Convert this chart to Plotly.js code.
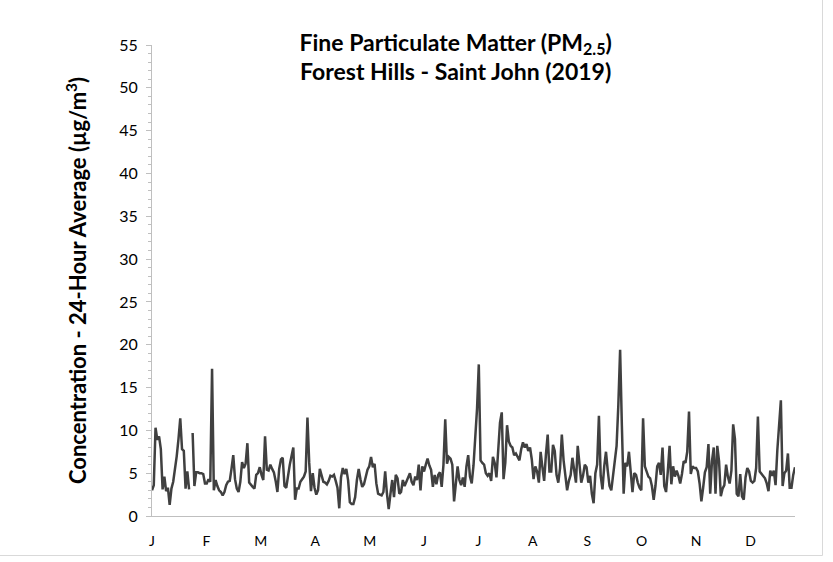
<!DOCTYPE html>
<html>
<head>
<meta charset="utf-8">
<script src="https://cdn.plot.ly/plotly-3.0.1.min.js"></script>
<style>
html,body{margin:0;padding:0;background:#fff;}
#chart{width:833px;height:562px;}
</style>
</head>
<body>
<div id="chart"></div>
<script>
// Month tick labels
const monthLabels = ['J','F','M','A','M','J','J','A','S','O','N','D'];

// Daily 24-hour average PM2.5 (µg/m³), 2019, by month
const jan = [3.0,3.6,10.3,8.9,9.3,7.8,3.1,4.6,2.9,3.3,1.3,3.2,4.0,5.3,7.0,9.0,11.4,7.8,7.6,3.2,5.2,3.1,null,9.7,3.5,5.1,5.1,5.0,5.0,4.9,3.8];
const feb = [3.8,4.3,4.0,17.2,3.0,4.2,3.5,3.0,2.8,2.4,2.8,3.6,4.0,4.1,5.5,7.1,4.3,3.2,2.8,4.0,6.3,5.6,6.1,8.5,3.9,3.6,3.4,3.2];
const mar = [4.8,5.0,5.7,4.8,4.2,9.3,5.4,5.3,6.0,5.5,5.1,4.1,2.8,5.5,6.6,6.8,3.5,3.3,5.0,6.0,7.0,8.0,1.9,3.2,3.2,4.0,4.3,4.6,5.2,11.5,6.2];
const apr = [2.9,5.0,3.3,2.5,3.0,5.5,4.8,4.0,3.9,3.7,4.1,4.7,4.6,4.8,4.1,3.3,0.9,4.5,5.6,4.9,5.5,4.2,1.6,1.4,1.4,2.2,4.2,5.5,4.3,3.4];
const may = [3.7,4.6,5.4,5.8,6.9,5.7,6.1,3.8,2.6,2.5,2.4,2.8,5.2,2.6,0.8,2.6,4.2,2.2,4.8,4.4,2.6,2.8,4.2,3.5,4.0,4.5,5.0,4.0,3.6,4.6,4.2];
const jun = [6.0,3.0,5.8,5.2,6.0,6.7,5.9,5.4,3.4,4.8,3.7,4.8,5.1,3.4,6.0,11.3,6.1,6.9,6.7,6.0,1.7,4.2,5.8,4.2,3.6,4.5,3.4,5.8,7.1,4.6];
const jul = [3.8,5.9,8.8,12.5,17.7,6.5,6.2,6.0,5.0,4.7,5.0,4.1,6.9,6.2,4.5,8.0,10.9,12.1,4.3,6.2,10.6,8.7,8.2,8.0,7.1,7.3,6.9,6.5,7.8,8.6,8.0];
const aug = [8.4,7.6,8.0,6.6,4.3,5.8,5.2,3.9,7.5,5.7,4.1,7.2,9.5,5.2,5.2,8.3,7.6,4.8,3.9,5.6,9.5,6.5,4.9,3.0,4.1,4.8,6.8,5.3,3.9,8.2,5.7];
const sep = [3.9,4.7,6.0,5.7,3.9,4.7,2.6,1.5,5.0,6.0,11.7,4.7,3.1,5.8,7.5,5.3,3.5,3.0,4.8,6.2,8.2,13.0,19.4,10.5,2.6,6.2,5.8,7.5,5.4,2.8];
const oct = [5.0,4.8,3.9,3.3,3.0,11.4,5.8,5.2,4.6,4.4,3.5,1.9,3.5,5.8,6.2,4.8,8.0,3.5,2.8,5.2,8.2,3.7,5.8,4.6,5.3,4.7,3.8,4.9,6.4,6.2,7.5];
const nov = [12.2,4.9,5.8,5.6,5.6,5.2,3.8,1.7,3.3,5.1,5.7,8.4,2.6,6.4,8.0,2.6,8.2,6.4,2.3,3.2,3.6,6.0,4.6,3.8,5.3,10.7,9.0,2.6,2.3,4.9];
const dec = [2.3,1.9,4.5,5.6,5.2,4.1,3.9,4.1,5.6,11.6,5.2,4.9,4.6,4.4,3.8,2.9,5.3,4.7,5.3,3.6,7.7,10.4,13.5,3.5,5.0,5.3,7.3,3.3,3.3,4.8,5.7];

const pm25 = [].concat(jan,feb,mar,apr,may,jun,jul,aug,sep,oct,nov,dec);
const dayIndex = pm25.map((v,i)=>i);
const tickPositions = monthLabels.map((m,k)=>k*30.8);

const font = "Lato, 'Liberation Sans', sans-serif";

const trace = {
  x: dayIndex,
  y: pm25,
  type: 'scatter',
  mode: 'lines',
  connectgaps: false,
  line: {color:'#404040', width:2.5},
  hoverinfo: 'skip'
};

// frame of the chart area (pixel → paper conversion for plot area 152..795 x 45..516)
const px = p => (p-152)/643;
const py = p => (516-p)/471;

const layout = {
  width: 833, height: 562,
  margin: {l:152, r:38, t:45, b:46, pad:0},
  paper_bgcolor:'#ffffff', plot_bgcolor:'#ffffff',
  showlegend:false,
  font:{family:font, color:'#404040', size:14},
  title:{
    text:'<b>Fine Particulate Matter (PM<sub>2.5</sub>)<br>Forest Hills - Saint John (2019)</b>',
    font:{family:font, size:23, color:'#000000', weight:'bold'},
    x:0.547, xref:'container', xanchor:'center',
    y:0.91, yref:'container', yanchor:'top'
  },
  xaxis:{
    range:[0,364],
    tickmode:'array',
    tickvals: tickPositions,
    ticktext: monthLabels,
    ticks:'',
    ticklabelstandoff:12,
    showgrid:false, zeroline:false,
    showline:true, linecolor:'#bfbfbf', linewidth:1,
    tickfont:{family:font, size:14, color:'#000000'},
    fixedrange:true
  },
  yaxis:{
    range:[0,55],
    dtick:5, tick0:0,
    ticks:'outside', ticklen:5, tickcolor:'#bfbfbf', tickwidth:1,
    minor:{dtick:1, ticks:'outside', ticklen:3, tickcolor:'#bfbfbf', showgrid:false},
    ticklabelstandoff:5,
    showgrid:false, zeroline:false,
    showline:true, linecolor:'#bfbfbf', linewidth:1,
    tickfont:{family:font, size:16, color:'#000000'},
    title:{text:'<b>Concentration - 24-Hour Average (µg/m<sup>3</sup>)</b>', font:{family:font, size:22, color:'#000000', weight:'bold'}, standoff:26},
    fixedrange:true
  },
  shapes:[
    {type:'line', xref:'paper', yref:'paper', x0:px(822.5), x1:px(822.5), y0:py(0), y1:py(555.5), line:{color:'#d9d9d9', width:1}},
    {type:'line', xref:'paper', yref:'paper', x0:px(0), x1:px(822.5), y0:py(555.5), y1:py(555.5), line:{color:'#d9d9d9', width:1}}
  ]
};

Plotly.newPlot('chart', [trace], layout, {displayModeBar:false, staticPlot:true});
</script>
</body>
</html>
